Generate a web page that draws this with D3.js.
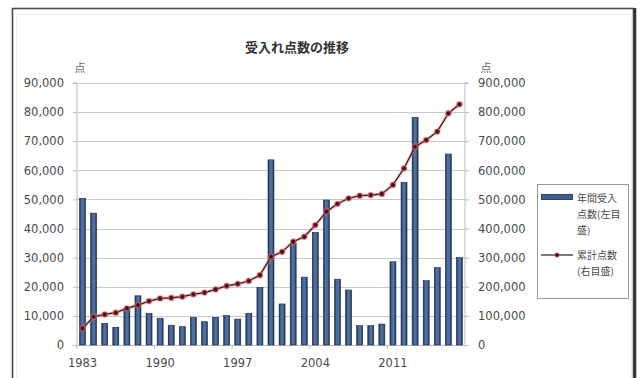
<!DOCTYPE html>
<html><head><meta charset="utf-8">
<script src="https://cdn.jsdelivr.net/npm/d3@7"></script>
<style>html,body{margin:0;padding:0;background:#fff;}svg{display:block;}</style>
</head><body>
<svg id="c" width="640" height="378"></svg>
<script>
const years = [1983,1984,1985,1986,1987,1988,1989,1990,1991,1992,1993,1994,1995,1996,1997,1998,1999,2000,2001,2002,2003,2004,2005,2006,2007,2008,2009,2010,2011,2012,2013,2014,2015,2016,2017];
const annual = [50400,45300,7450,6100,12600,16900,10900,9200,6800,6300,9500,8000,9500,10100,8900,10900,19800,63600,14100,34900,23300,38700,49800,22600,18900,6650,6650,7200,28600,55900,78200,22100,26600,65600,30000];
const cumulative = [57000,97000,105000,111000,126000,137000,151000,160000,162000,166000,174000,180000,191000,203000,210000,220000,240000,303000,320000,355000,372000,412000,458000,485000,504000,513000,515000,519000,550000,607000,681000,704000,733000,796000,827000];
const leftTicks = [0,10000,20000,30000,40000,50000,60000,70000,80000,90000];
const rightTicks = [0,100000,200000,300000,400000,500000,600000,700000,800000,900000];
const xLabels = [1983,1990,1997,2004,2011];
const title = "受入れ点数の推移";
const unitLabel = "点";
const legendBar = ["年間受入","点数(左目","盛)"];
const legendLine = ["累計点数","(右目盛)"];

const svg = d3.select("#c");
const L = 77, R = 465, T = 83, B = 345;
const x = d3.scaleBand().domain(years).range([L, R]).paddingInner(0.46).paddingOuter(0.23);
const yL = d3.scaleLinear().domain([0, 90000]).range([B, T]);
const yR = d3.scaleLinear().domain([0, 900000]).range([B, T]);
const fmt = d3.format(",");
const numFont = "'DejaVu Sans', sans-serif";
const jpFont = "'Noto Sans CJK JP', sans-serif";

// outer frame
svg.append("rect").attr("x",12.5).attr("y",8.5).attr("width",621).attr("height",380)
  .attr("fill","#fff").attr("stroke","#4a4a4a").attr("stroke-width",1.6);
svg.append("line").attr("x1",635).attr("x2",635).attr("y1",8).attr("y2",378).attr("stroke","#333").attr("stroke-width",2.5);
svg.append("rect").attr("x",16.5).attr("y",14.5).attr("width",615).attr("height",370)
  .attr("fill","none").attr("stroke","#ececec").attr("stroke-width",1);

// gradient for bars
const defs = svg.append("defs");
const g = defs.append("linearGradient").attr("id","bg").attr("x1","0").attr("x2","1").attr("y1","0").attr("y2","0");
g.append("stop").attr("offset","0%").attr("stop-color","#1c2f52");
g.append("stop").attr("offset","35%").attr("stop-color","#4f6f9f");
g.append("stop").attr("offset","65%").attr("stop-color","#4f6f9f");
g.append("stop").attr("offset","100%").attr("stop-color","#1c2f52");

// gridlines
svg.append("g").selectAll("line").data(leftTicks.filter(d=>d>0)).join("line")
  .attr("x1",L).attr("x2",R).attr("y1",d=>Math.round(yL(d))+0.5).attr("y2",d=>Math.round(yL(d))+0.5)
  .attr("stroke","#c9c9c9").attr("stroke-width",1);

// left axis
const axL = svg.append("g").attr("transform",`translate(${L},0)`)
  .call(d3.axisLeft(yL).tickValues(leftTicks).tickFormat(fmt).tickSize(4).tickPadding(9));
axL.select(".domain").attr("stroke","#bdbdbd").attr("d",`M-4,${T}H0V${B}`);
axL.selectAll(".tick line").attr("stroke","#bdbdbd");
axL.selectAll("text").attr("font-family",numFont).attr("font-size","11.5px").attr("fill","#4a4a4a");

// right axis
const axR = svg.append("g").attr("transform",`translate(${R},0)`)
  .call(d3.axisRight(yR).tickValues(rightTicks).tickFormat(fmt).tickSize(4).tickPadding(9));
axR.select(".domain").attr("stroke","#bdbdbd").attr("d",`M4,${T}H0V${B}`);
axR.selectAll(".tick line").attr("stroke","#bdbdbd");
axR.selectAll("text").attr("font-family",numFont).attr("font-size","11.5px").attr("fill","#4a4a4a");

// bottom axis
const axB = svg.append("g").attr("transform",`translate(0,${B})`)
  .call(d3.axisBottom(x).tickValues(xLabels).tickSize(0).tickPadding(14));
axB.select(".domain").attr("stroke","#bdbdbd").attr("d",`M${L},0.5H${R}`);
axB.selectAll("text").attr("font-family",numFont).attr("font-size","11.5px").attr("fill","#4a4a4a");
svg.append("g").selectAll("line").data(xLabels).join("line")
  .attr("x1",d=>x(d)-x.step()*x.paddingInner()/2).attr("x2",d=>x(d)-x.step()*x.paddingInner()/2)
  .attr("y1",B).attr("y2",B+4).attr("stroke","#bdbdbd");

// bars
svg.append("g").selectAll("rect").data(years).join("rect")
  .attr("x",(d)=>x(d)).attr("width",x.bandwidth())
  .attr("y",(d,i)=>yL(annual[i])).attr("height",(d,i)=>B-yL(annual[i]))
  .attr("fill","url(#bg)").attr("stroke","#1a2a48").attr("stroke-width",0.6);

// line
const cx = d => x(d) + x.bandwidth()/2;
const line = d3.line().x((d,i)=>cx(years[i])).y(d=>yR(d));
svg.append("path").datum(cumulative).attr("d",line).attr("fill","none")
  .attr("stroke","rgba(235,130,130,0.45)").attr("stroke-width",3.5);
svg.append("path").datum(cumulative).attr("d",line).attr("fill","none")
  .attr("stroke","#2a1414").attr("stroke-width",1.2);
svg.append("g").selectAll("circle").data(cumulative).join("circle")
  .attr("cx",(d,i)=>cx(years[i])).attr("cy",d=>yR(d)).attr("r",2.6)
  .attr("fill","#4a0c18").attr("stroke","rgba(225,110,110,0.55)").attr("stroke-width",1.6);

// title
svg.append("text").attr("x",297).attr("y",52).attr("text-anchor","middle")
  .attr("font-family",jpFont).attr("font-weight","bold").attr("font-size","13px").attr("fill","#333")
  .text(title);
// unit labels
svg.append("text").attr("x",80).attr("y",72).attr("text-anchor","middle")
  .attr("font-family",jpFont).attr("font-size","11px").attr("fill","#666").text(unitLabel);
svg.append("text").attr("x",486).attr("y",72).attr("text-anchor","middle")
  .attr("font-family",jpFont).attr("font-size","11px").attr("fill","#666").text(unitLabel);

// legend
const lg = svg.append("g");
lg.append("rect").attr("x",537.5).attr("y",184.5).attr("width",91).attr("height",114)
  .attr("fill","#fff").attr("stroke","#9a9a9a").attr("stroke-width",1);
lg.append("rect").attr("x",541.5).attr("y",194.5).attr("width",31).attr("height",5)
  .attr("fill","#3f5f90").attr("stroke","#1a2a48").attr("stroke-width",0.8);
lg.selectAll("text.a").data(legendBar).join("text").attr("class","a")
  .attr("x",577).attr("y",(d,i)=>202+i*15.8)
  .attr("font-family",jpFont).attr("font-size","10px").attr("fill","#4a4a4a").text(d=>d);
lg.append("line").attr("x1",541).attr("x2",573).attr("y1",255).attr("y2",255).attr("stroke","#222").attr("stroke-width",1.2);
lg.append("circle").attr("cx",557).attr("cy",255).attr("r",2.2).attr("fill","#4a0c18").attr("stroke","rgba(225,110,110,0.55)");
lg.selectAll("text.b").data(legendLine).join("text").attr("class","b")
  .attr("x",577).attr("y",(d,i)=>258.5+i*16)
  .attr("font-family",jpFont).attr("font-size","10px").attr("fill","#4a4a4a").text(d=>d);
</script>
</body></html>
